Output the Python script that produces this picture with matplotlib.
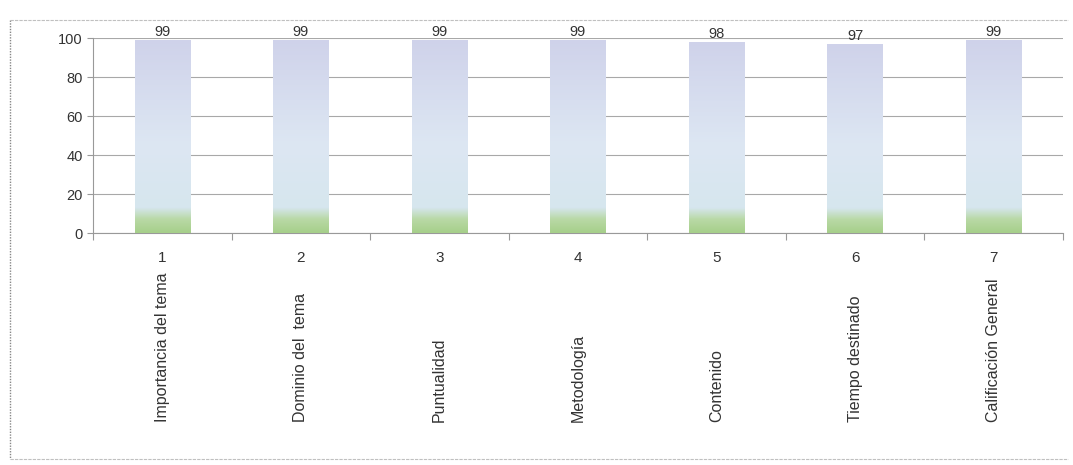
import matplotlib.pyplot as plt
import numpy as np
from matplotlib.colors import LinearSegmentedColormap
from matplotlib.lines import Line2D
import matplotlib.transforms as mtransforms

# data
numeros = ['1', '2', '3', '4', '5', '6', '7']
categorias = ['Importancia del tema', 'Dominio del  tema', 'Puntualidad',
              'Metodología', 'Contenido', 'Tiempo destinado', 'Calificación General']
valores = [99, 99, 99, 99, 98, 97, 99]

plt.rcParams['font.family'] = ['Liberation Sans', 'DejaVu Sans']

fig = plt.figure(figsize=(10.73, 4.65), dpi=100)
ax = fig.add_axes([93 / 1073, (465 - 233) / 465, (1063 - 93) / 1073, (233 - 38) / 465])

# outer frame lines like the scanned box
def fy(p):
    return (465 - p) / 465
fig.lines.append(Line2D([10 / 1073, 10 / 1073], [fy(20), fy(459)], transform=fig.transFigure,
                        color='#888888', linewidth=1.0, linestyle=(0, (1, 1))))
fig.lines.append(Line2D([10 / 1073, 1068 / 1073], [fy(20), fy(20)], transform=fig.transFigure,
                        color='#c0c0c0', linewidth=0.8, linestyle=(0, (3, 1))))
fig.lines.append(Line2D([10 / 1073, 1068 / 1073], [fy(459), fy(459)], transform=fig.transFigure,
                        color='#c0c0c0', linewidth=0.8, linestyle=(0, (3, 1))))

cmap = LinearSegmentedColormap.from_list('barra', [
    (0.0, '#a6cf8a'), (0.07, '#b9d9a6'), (0.13, '#d6e6ee'),
    (0.45, '#dde7f3'), (1.0, '#cfd2ea')])
grad = np.linspace(0, 1, 256).reshape(-1, 1)

x = np.arange(len(valores))
bars = ax.bar(x, valores, width=0.4, color='none', zorder=3)
for b, v in zip(bars, valores):
    im = ax.imshow(grad, cmap=cmap, aspect='auto', origin='lower',
                   extent=[b.get_x(), b.get_x() + b.get_width(), 0, v], zorder=3)
    im.set_clip_path(b)
    ax.text(b.get_x() + b.get_width() / 2, v + 0.3, str(v), ha='center', va='bottom',
            fontsize=10.5, color='#333333', zorder=4)

ax.set_xlim(-0.5, len(valores) - 0.5)
ax.set_ylim(0, 100)
ax.set_yticks([0, 20, 40, 60, 80, 100])
ax.tick_params(axis='y', labelsize=10.5, colors='#333333', length=4, color='#999999')
ax.yaxis.grid(True, color='#a8a8a8', linewidth=0.8, zorder=0)
ax.set_axisbelow(True)

ax.set_xticks(np.arange(-0.5, len(valores), 1))
ax.set_xticklabels([])
ax.tick_params(axis='x', length=5, color='#999999')

for s in ['top', 'right']:
    ax.spines[s].set_visible(False)
for s in ['left', 'bottom']:
    ax.spines[s].set_color('#999999')

trans = mtransforms.blended_transform_factory(ax.transData, fig.transFigure)
for i in x:
    ax.text(i, fy(258), numeros[i], transform=trans, ha='center', va='center',
            fontsize=11, color='#333333')
    ax.text(i, fy(422), categorias[i], transform=trans, ha='center', va='bottom',
            rotation=90, fontsize=11.5, color='#333333')

fig.savefig('out.png', dpi=100)
